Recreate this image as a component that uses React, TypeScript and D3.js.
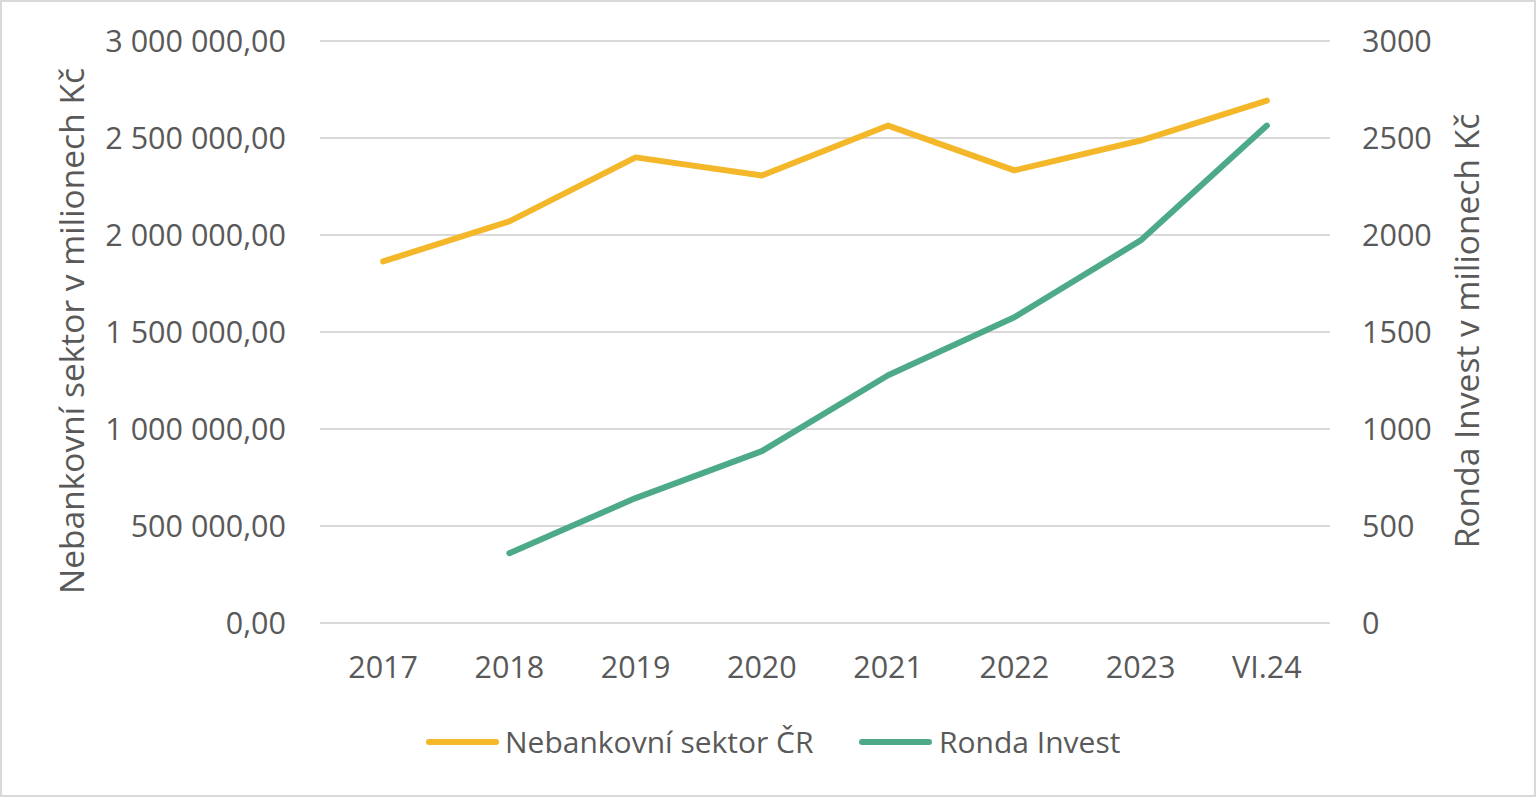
import React from "react";
import * as d3 from "d3";

const categories = ["2017", "2018", "2019", "2020", "2021", "2022", "2023", "VI.24"];
const nebankovni = [1864000, 2070000, 2400000, 2307000, 2564000, 2333000, 2487000, 2693000];
const ronda: (number | null)[] = [null, 360, 644, 886, 1277, 1576, 1972, 2564];
const leftTicks = [0, 500000, 1000000, 1500000, 2000000, 2500000, 3000000];
const rightTicks = [0, 500, 1000, 1500, 2000, 2500, 3000];
const seriesNames = ["Nebankovní sektor ČR", "Ronda Invest"];
const leftTitle = "Nebankovní sektor v milionech Kč";
const rightTitle = "Ronda Invest v milionech Kč";

const W = 1536;
const H = 797;
const FONT = "'Open Sans', sans-serif";
const TEXT = "#595959";
const YELLOW = "#F4B72A";
const GREEN = "#4DAA88";

const loc = d3.formatLocale({ decimal: ",", thousands: "\u00a0", grouping: [3], currency: ["", ""] });
const fmtLeft = loc.format(",.2f");
const fmtRight = d3.format("d");

export default function App() {
  const x = d3.scaleBand<string>().domain(categories).range([320, 1330]).padding(0);
  const cx = (c: string) => (x(c) as number) + x.bandwidth() / 2;
  const yL = d3.scaleLinear().domain([0, 3000000]).range([623, 41]);
  const yR = d3.scaleLinear().domain([0, 3000]).range([623, 41]);

  const lineL = d3
    .line<number>()
    .x((_, i) => cx(categories[i]))
    .y((d) => yL(d));
  const lineR = d3
    .line<number | null>()
    .defined((d) => d !== null)
    .x((_, i) => cx(categories[i]))
    .y((d) => yR(d as number));

  const fs = 30.5;
  return (
    <svg width={W} height={H} style={{ position: "absolute", left: 0, top: 0, fontFamily: FONT }}>
      <rect x={0} y={0} width={W} height={H} fill="#fff" />
      <rect x={1} y={1} width={W - 2} height={H - 2} fill="none" stroke="#d9d9d9" strokeWidth={2} />
      {leftTicks.map((t) => (
        <line key={"g" + t} x1={320} x2={1330} y1={yL(t)} y2={yL(t)} stroke="#d9d9d9" strokeWidth={2} />
      ))}
      {leftTicks.map((t) => (
        <text key={"l" + t} x={286} y={yL(t) - 1} textAnchor="end" dominantBaseline="central" fontSize={fs} fill={TEXT}>
          {fmtLeft(t)}
        </text>
      ))}
      {rightTicks.map((t) => (
        <text key={"r" + t} x={1362} y={yR(t) - 1} textAnchor="start" dominantBaseline="central" fontSize={fs} fill={TEXT}>
          {fmtRight(t)}
        </text>
      ))}
      {categories.map((c) => (
        <text key={c} x={cx(c)} y={666} textAnchor="middle" dominantBaseline="central" fontSize={fs} fill={TEXT}>
          {c}
        </text>
      ))}
      <text
        transform={`translate(71,331) rotate(-90)`}
        textAnchor="middle"
        dominantBaseline="central"
        fontSize={33.5}
        fill={TEXT}
      >
        {leftTitle}
      </text>
      <text
        transform={`translate(1466,331) rotate(-90)`}
        textAnchor="middle"
        dominantBaseline="central"
        fontSize={33.5}
        fill={TEXT}
      >
        {rightTitle}
      </text>
      <path d={lineL(nebankovni) || ""} fill="none" stroke={YELLOW} strokeWidth={6} strokeLinecap="round" strokeLinejoin="round" />
      <path d={lineR(ronda) || ""} fill="none" stroke={GREEN} strokeWidth={6} strokeLinecap="round" strokeLinejoin="round" />
      <line x1={429} x2={496} y1={742} y2={742} stroke={YELLOW} strokeWidth={6} strokeLinecap="round" />
      <text x={505} y={741} dominantBaseline="central" fontSize={30} fill={TEXT}>
        {seriesNames[0]}
      </text>
      <line x1={862} x2={929} y1={742} y2={742} stroke={GREEN} strokeWidth={6} strokeLinecap="round" />
      <text x={939} y={741} dominantBaseline="central" fontSize={30} fill={TEXT}>
        {seriesNames[1]}
      </text>
    </svg>
  );
}
